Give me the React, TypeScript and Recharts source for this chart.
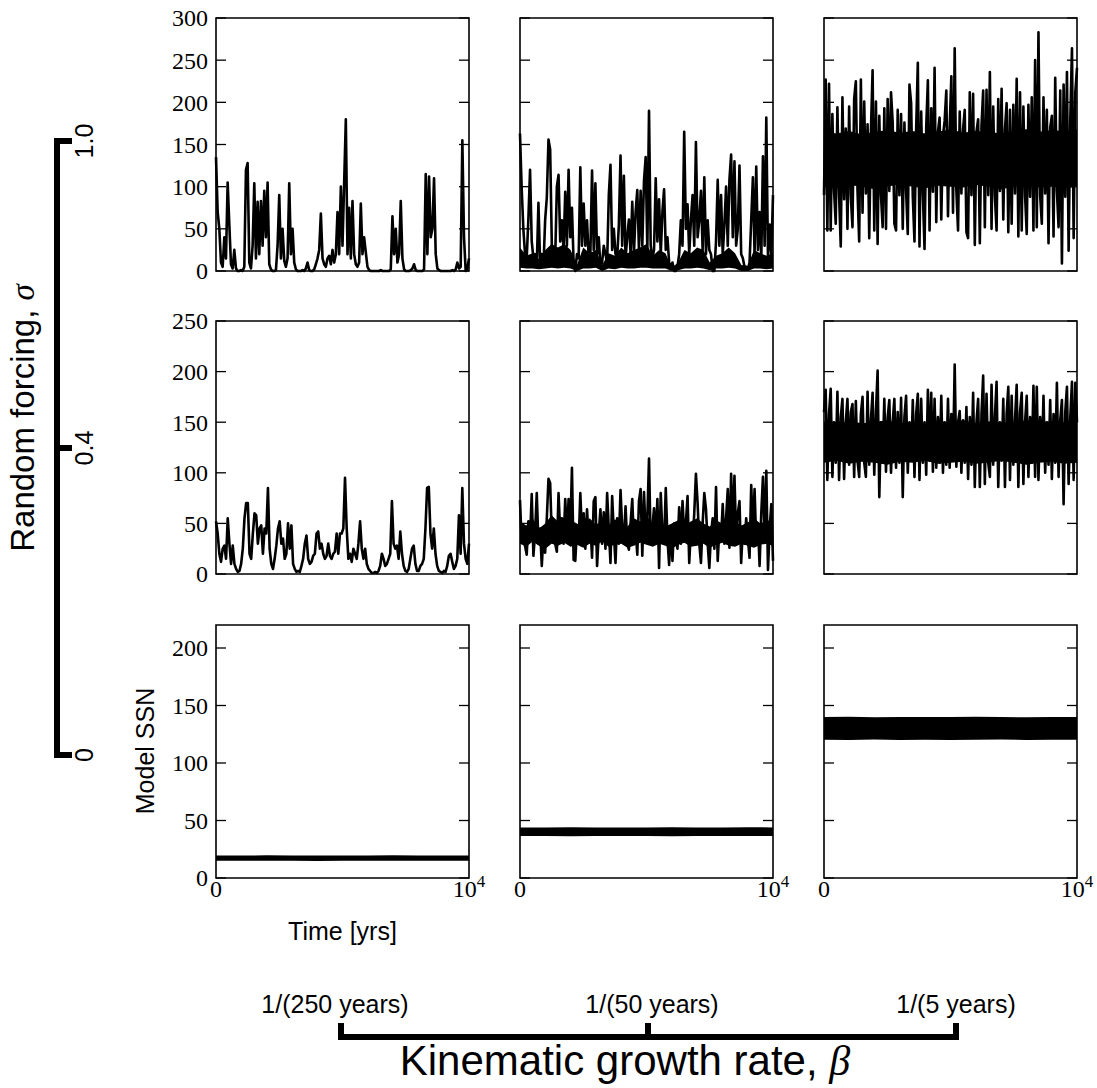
import { Area, ComposedChart, Line, ReferenceArea, XAxis, YAxis } from "recharts";

// time axis: every run spans 0 .. 10^4 years, samples evenly spaced
const T_MAX = 10000;
const xTicks = [0, 10000];

// y ticks per row (sigma = 1.0, 0.4, 0)
const yTicksRow1 = [0, 50, 100, 150, 200, 250, 300];
const yTicksRow2 = [0, 50, 100, 150, 200, 250];
const yTicksRow3 = [0, 50, 100, 150, 200];
const yMaxByRow = [300, 250, 220];

// sigma = 1.0
const ssnS10B250 = [
  135, 70, 50, 10, 5, 40, 15, 105, 55, 8, 3, 25, 3, 0, 0, 1, 0, 5, 120, 128, 10, 3, 30, 104, 15, 82, 20, 83, 30, 95,
  40, 105, 8, 2, 0, 0, 1, 30, 90, 15, 50, 12, 5, 15, 104, 20, 50, 10, 2, 0, 0, 0, 1, 0, 3, 10, 1, 0, 0, 2,
  8, 15, 25, 68, 15, 8, 5, 15, 18, 8, 25, 10, 20, 70, 20, 100, 30, 105, 180, 20, 75, 15, 83, 20, 8, 5, 10, 80, 20, 40,
  22, 5, 1, 0, 0, 0, 0, 0, 0, 1, 0, 0, 0, 0, 0, 2, 65, 20, 50, 10, 20, 83, 15, 2, 0, 0, 0, 1, 3, 8,
  1, 0, 0, 0, 0, 2, 115, 20, 112, 40, 50, 110, 20, 3, 1, 0, 0, 0, 0, 0, 0, 0, 1, 0, 2, 10, 3, 5, 155, 40,
  0, 3, 15,
];
const ssnS10B50 = [
  163, 98, 50, 20, 15, 62, 120, 35, 15, 20, 5, 81, 10, 20, 5, 60, 87, 156, 144, 30, 20, 15, 100, 114, 35, 60, 25, 94, 30, 120,
  40, 75, 10, 0, 20, 15, 123, 30, 80, 30, 60, 15, 20, 119, 25, 104, 20, 40, 5, 10, 30, 20, 10, 90, 126, 25, 50, 20, 15, 55,
  137, 30, 113, 15, 40, 61, 20, 82, 20, 70, 96, 25, 95, 30, 107, 135, 25, 190, 30, 15, 25, 110, 35, 85, 20, 70, 97, 25, 40, 10,
  5, 10, 0, 0, 5, 20, 60, 30, 165, 50, 79, 20, 60, 90, 30, 153, 40, 60, 95, 25, 111, 20, 60, 25, 20, 0, 0, 35, 108, 30,
  90, 20, 55, 100, 30, 108, 138, 40, 130, 30, 50, 125, 20, 15, 5, 5, 2, 10, 60, 111, 20, 124, 25, 70, 15, 136, 30, 182, 15, 55,
  20, 90,
];
// dense lower part of the sigma = 1.0, beta = 1/(50 yr) run
const coreS10B50Lo = [
  4, 3, 3, 2, 3, 4, 3, 4, 3, 0, 3, 3, 4, 0, 3, 2, 4, 3, 3, 4, 4, 3, 3, 3, 0, 1, 3, 3, 4, 3, 1, 3, 3, 4, 3, 0, 0, 3, 3, 2, 3,
];
const coreS10B50Hi = [
  28, 18, 21, 14, 25, 32, 28, 32, 25, 7, 28, 21, 25, 7, 21, 18, 28, 21, 25, 28, 32, 18, 25, 21, 4, 10, 25, 21, 28, 25, 10,
  18, 21, 28, 21, 7, 6, 25, 21, 18, 21,
];
const ssnS10B5 = [
  90, 227, 48, 222, 48, 186, 95, 56, 194, 90, 29, 206, 85, 169, 50, 195, 88, 52, 204, 225, 95, 35, 227, 69, 201, 92, 174, 39, 165, 238,
  48, 201, 32, 184, 90, 52, 193, 50, 204, 95, 212, 176, 56, 48, 191, 90, 186, 50, 176, 95, 44, 221, 199, 88, 35, 168, 247, 29, 189, 92,
  26, 170, 226, 48, 193, 94, 241, 58, 165, 182, 61, 160, 178, 214, 65, 170, 231, 69, 264, 95, 48, 189, 92, 168, 191, 46, 39, 212, 90, 210,
  31, 165, 180, 33, 172, 214, 52, 215, 90, 236, 50, 195, 88, 48, 204, 95, 216, 61, 168, 199, 46, 191, 56, 197, 92, 228, 41, 212, 48, 195,
  90, 44, 197, 88, 206, 48, 250, 52, 283, 90, 56, 206, 92, 191, 33, 170, 184, 41, 229, 95, 52, 214, 9, 221, 88, 236, 24, 180, 264, 39,
  212, 241,
];
// solid core of the dense sigma = 1.0, beta = 1/(5 yr) run
const coreS10B5Lo = [100, 98, 102, 100, 97, 100, 103, 100, 98, 101, 100, 99, 102, 100, 97, 100, 101, 99, 100, 98, 100];
const coreS10B5Hi = [165, 163, 166, 162, 165, 167, 164, 166, 163, 165, 168, 164, 166, 165, 163, 166, 168, 165, 167, 166, 168];

// sigma = 0.4
const ssnS04B250 = [
  52, 40, 20, 12, 25, 28, 15, 55, 30, 10, 28, 10, 5, 2, 3, 10, 25, 55, 70, 70, 20, 15, 40, 60, 58, 30, 45, 48, 20, 45,
  40, 85, 25, 10, 5, 15, 28, 45, 52, 30, 35, 15, 20, 50, 25, 48, 10, 5, 2, 3, 2, 8, 15, 30, 38, 15, 10, 12, 18, 20,
  40, 42, 25, 30, 20, 15, 18, 30, 18, 15, 20, 22, 40, 20, 40, 40, 45, 95, 45, 15, 20, 12, 25, 20, 15, 30, 52, 25, 15, 25,
  10, 5, 3, 1, 1, 2, 1, 3, 8, 20, 15, 8, 10, 15, 20, 72, 30, 25, 28, 15, 42, 20, 8, 3, 2, 5, 15, 25, 28, 10,
  3, 3, 8, 10, 15, 45, 85, 86, 40, 25, 45, 20, 8, 3, 2, 1, 3, 2, 8, 18, 20, 12, 5, 8, 15, 58, 20, 85, 30, 15,
  10, 30,
];
const ssnS04B50 = [
  73, 31, 45, 28, 19, 52, 35, 79, 18, 40, 80, 30, 45, 8, 38, 21, 55, 94, 90, 35, 50, 30, 22, 80, 40, 55, 30, 74, 35, 74,
  40, 105, 14, 13, 45, 30, 80, 40, 60, 25, 64, 35, 50, 16, 72, 76, 8, 40, 64, 30, 61, 25, 80, 45, 11, 77, 40, 11, 55, 30,
  83, 45, 35, 67, 30, 24, 50, 74, 30, 45, 19, 72, 84, 18, 81, 40, 55, 114, 30, 45, 65, 35, 74, 6, 80, 40, 30, 85, 35, 9,
  45, 13, 50, 35, 25, 66, 30, 72, 40, 50, 77, 11, 45, 30, 60, 99, 70, 30, 11, 50, 80, 64, 30, 6, 40, 55, 25, 86, 13, 45,
  35, 69, 30, 55, 84, 26, 99, 45, 97, 35, 60, 72, 11, 45, 30, 55, 35, 16, 88, 40, 84, 30, 50, 8, 60, 96, 35, 102, 4, 45,
  69, 13,
];
const coreS04B50Lo = [
  30, 27, 32, 28, 25, 30, 28, 31, 27, 29, 26, 30, 28, 32, 27, 29, 30, 26, 28, 31, 29, 27, 30, 28, 25, 29, 31, 27, 28, 30,
  26, 29, 31, 28, 27, 30, 28, 26, 29, 30, 28,
];
const coreS04B50Hi = [
  52, 48, 55, 45, 50, 58, 52, 47, 53, 50, 46, 55, 49, 52, 48, 54, 50, 47, 55, 52, 58, 49, 51, 47, 50, 53, 48, 52, 55, 50,
  47, 53, 50, 56, 52, 48, 51, 55, 50, 53, 52,
];
const ssnS04B5 = [
  160, 182, 93, 158, 183, 96, 150, 110, 180, 93, 155, 173, 94, 150, 173, 108, 160, 168, 96, 171, 112, 96, 158, 175, 110, 96, 180, 108, 152, 179,
  98, 160, 201, 76, 150, 112, 173, 101, 155, 172, 100, 150, 173, 105, 160, 110, 174, 76, 155, 176, 100, 150, 112, 172, 96, 158, 178, 93, 173, 110,
  150, 98, 182, 112, 179, 101, 173, 105, 155, 110, 176, 100, 150, 108, 173, 105, 158, 112, 207, 106, 150, 161, 100, 152, 110, 165, 94, 155, 108, 179,
  86, 150, 173, 86, 158, 196, 89, 178, 110, 96, 187, 108, 155, 190, 86, 150, 112, 173, 86, 158, 185, 93, 176, 108, 152, 187, 86, 160, 179, 89,
  150, 176, 96, 155, 110, 186, 96, 185, 93, 155, 112, 176, 100, 150, 108, 172, 94, 158, 110, 189, 96, 152, 172, 69, 160, 185, 89, 155, 190, 93,
  189, 150,
];
const coreS04B5Lo = [110, 112, 109, 111, 110, 108, 111, 110, 112, 109, 110, 111, 109, 110, 112, 110, 108, 110, 111, 109, 110];
const coreS04B5Hi = [150, 148, 151, 149, 150, 152, 149, 150, 148, 151, 150, 152, 149, 151, 150, 149, 152, 150, 151, 150, 151];

// sigma = 0: the runs sit in a narrow band (low / high envelope)
const bandS0B250Lo = [15.0, 14.9, 15.1, 15.0, 14.8, 15.0, 15.1, 14.9, 15.0, 15.0, 15.1];
const bandS0B250Hi = [19.6, 19.5, 19.7, 19.6, 19.6, 19.5, 19.6, 19.7, 19.6, 19.5, 19.6];
const bandS0B50Lo = [36.5, 36.6, 36.4, 36.5, 36.6, 36.5, 36.4, 36.5, 36.6, 36.5, 36.5];
const bandS0B50Hi = [44.0, 43.9, 44.1, 44.0, 44.0, 43.9, 44.1, 44.0, 44.0, 44.1, 44.0];
const bandS0B5Lo = [120.2, 120.0, 120.4, 120.1, 120.3, 120.0, 120.2, 120.4, 120.1, 120.2, 120.3];
const bandS0B5Hi = [140.0, 140.2, 139.8, 140.1, 140.0, 139.9, 140.2, 140.0, 139.8, 140.1, 140.0];

// layout
const COL_X = [216, 520, 824];
const ROW_Y = [18, 321, 625];
const PW = 253;
const PH = 253;
const ML = 90;
const MR = 30;
const MT = 14;
const MB = 44;

const SERIF = '"Liberation Serif", "Times New Roman", serif';
const SANS = '"Liberation Sans", Arial, Helvetica, sans-serif';
const numStyle = { fontFamily: SERIF, fontSize: 24 };

const toSeries = (values: number[]) =>
  values.map((v, i) => ({ t: (i * T_MAX) / (values.length - 1), v }));

const toBand = (lo: number[], hi: number[]) =>
  lo.map((l, i) => ({ t: (i * T_MAX) / (lo.length - 1), band: [l, hi[i]] }));

const makeYTick = (showLabel: boolean) => (props: any) => {
  const { y, payload } = props;
  return (
    <g>
      <line x1={ML} x2={ML + 10} y1={y} y2={y} stroke="#000" strokeWidth={1.3} />
      <line x1={ML + PW - 10} x2={ML + PW} y1={y} y2={y} stroke="#000" strokeWidth={1.3} />
      {showLabel && (
        <text x={ML - 8} y={y} dy="0.35em" textAnchor="end" style={numStyle} fill="#000">
          {payload.value}
        </text>
      )}
    </g>
  );
};

const renderXTick = (props: any) => {
  const { x, payload } = props;
  const base = MT + PH + 19;
  if (payload.value === 0) {
    return (
      <text x={x} y={base} textAnchor="middle" style={numStyle} fill="#000">
        0
      </text>
    );
  }
  return (
    <text x={x} y={base} textAnchor="middle" style={numStyle} fill="#000">
      10
      <tspan dy={-10} style={{ fontSize: 17 }}>
        4
      </tspan>
    </text>
  );
};

interface PanelProps {
  row: number;
  col: number;
  values?: number[];
  lo?: number[];
  hi?: number[];
}

function Panel({ row, col, values, lo, hi }: PanelProps) {
  const yMax = yMaxByRow[row];
  const ticks = [yTicksRow1, yTicksRow2, yTicksRow3][row];
  const line = values ? toSeries(values) : [];
  const band = lo && hi ? toBand(lo, hi) : [];
  const bottom = row === 2;
  return (
    <div style={{ position: "absolute", left: COL_X[col] - ML, top: ROW_Y[row] - MT }}>
      <ComposedChart
        width={ML + PW + MR}
        height={MT + PH + MB}
        margin={{ top: MT, right: MR, bottom: MB - 1, left: ML - 1 }}
      >
        {bottom ? (
          <XAxis
            dataKey="t"
            type="number"
            domain={[0, T_MAX]}
            ticks={xTicks}
            interval={0}
            height={1}
            tickSize={0}
            tickMargin={0}
            tickLine={false}
            axisLine={false}
            tick={renderXTick}
          />
        ) : (
          <XAxis dataKey="t" type="number" domain={[0, T_MAX]} height={1} tick={false} axisLine={false} tickLine={false} />
        )}
        <YAxis
          type="number"
          domain={[0, yMax]}
          ticks={ticks}
          interval={0}
          width={1}
          tickSize={0}
          tickLine={false}
          axisLine={false}
          tick={makeYTick(col === 0)}
        />
        <ReferenceArea x1={0} x2={T_MAX} y1={0} y2={yMax} fill="none" stroke="#000" strokeWidth={1.6} />
        {band.length > 0 && (
          <Area
            data={band}
            type="linear"
            dataKey="band"
            stroke="none"
            fill="#000"
            fillOpacity={1}
            dot={false}
            activeDot={false}
            isAnimationActive={false}
          />
        )}
        {line.length > 0 && (
          <Line
            data={line}
            type="linear"
            dataKey="v"
            stroke="#000"
            strokeWidth={2.6}
            strokeLinejoin="round"
            dot={false}
            activeDot={false}
            isAnimationActive={false}
          />
        )}
      </ComposedChart>
    </div>
  );
}

export default function App() {
  return (
    <div style={{ position: "absolute", left: 0, top: 0, width: 1097, height: 1088, background: "#fff" }}>
      <Panel row={0} col={0} values={ssnS10B250} />
      <Panel row={0} col={1} values={ssnS10B50} lo={coreS10B50Lo} hi={coreS10B50Hi} />
      <Panel row={0} col={2} values={ssnS10B5} lo={coreS10B5Lo} hi={coreS10B5Hi} />
      <Panel row={1} col={0} values={ssnS04B250} />
      <Panel row={1} col={1} values={ssnS04B50} lo={coreS04B50Lo} hi={coreS04B50Hi} />
      <Panel row={1} col={2} values={ssnS04B5} lo={coreS04B5Lo} hi={coreS04B5Hi} />
      <Panel row={2} col={0} lo={bandS0B250Lo} hi={bandS0B250Hi} />
      <Panel row={2} col={1} lo={bandS0B50Lo} hi={bandS0B50Hi} />
      <Panel row={2} col={2} lo={bandS0B5Lo} hi={bandS0B5Hi} />

      <svg width={1097} height={1088} style={{ position: "absolute", left: 0, top: 0, pointerEvents: "none" }}>
        {/* sigma bracket */}
        <rect x={54} y={138} width={6} height={620} fill="#000" />
        <rect x={54} y={138} width={18} height={6} fill="#000" />
        <rect x={54} y={445} width={18} height={6} fill="#000" />
        <rect x={54} y={752} width={18} height={6} fill="#000" />
        <g fontFamily={SANS} fontSize={25} fill="#000" textAnchor="middle">
          <text transform="translate(93,141) rotate(-90)">1.0</text>
          <text transform="translate(93,448) rotate(-90)">0.4</text>
          <text transform="translate(93,755) rotate(-90)">0</text>
        </g>
        <text transform="translate(34,418) rotate(-90)" textAnchor="middle" fontFamily={SANS} fontSize={33} fill="#000">
          Random forcing,{" "}
          <tspan fontFamily={SERIF} fontStyle="italic">
            σ
          </tspan>
        </text>
        <text transform="translate(154,751) rotate(-90)" textAnchor="middle" fontFamily={SANS} fontSize={25} fill="#000">
          Model SSN
        </text>
        <text x={342.5} y={940} textAnchor="middle" fontFamily={SANS} fontSize={25} fill="#000">
          Time [yrs]
        </text>

        {/* beta bracket */}
        <rect x={338} y={1034} width={621} height={6} fill="#000" />
        <rect x={338} y={1023} width={6} height={17} fill="#000" />
        <rect x={645} y={1023} width={6} height={17} fill="#000" />
        <rect x={953} y={1023} width={6} height={17} fill="#000" />
        <g fontFamily={SANS} fontSize={25} fill="#000" textAnchor="middle">
          <text x={335} y={1013}>1/(250 years)</text>
          <text x={652} y={1013}>1/(50 years)</text>
          <text x={956} y={1013}>1/(5 years)</text>
        </g>
        <text x={625} y={1075} textAnchor="middle" fontFamily={SANS} fontSize={42} fill="#000">
          Kinematic growth rate,{" "}
          <tspan fontFamily={SERIF} fontStyle="italic">
            β
          </tspan>
        </text>
      </svg>
    </div>
  );
}
